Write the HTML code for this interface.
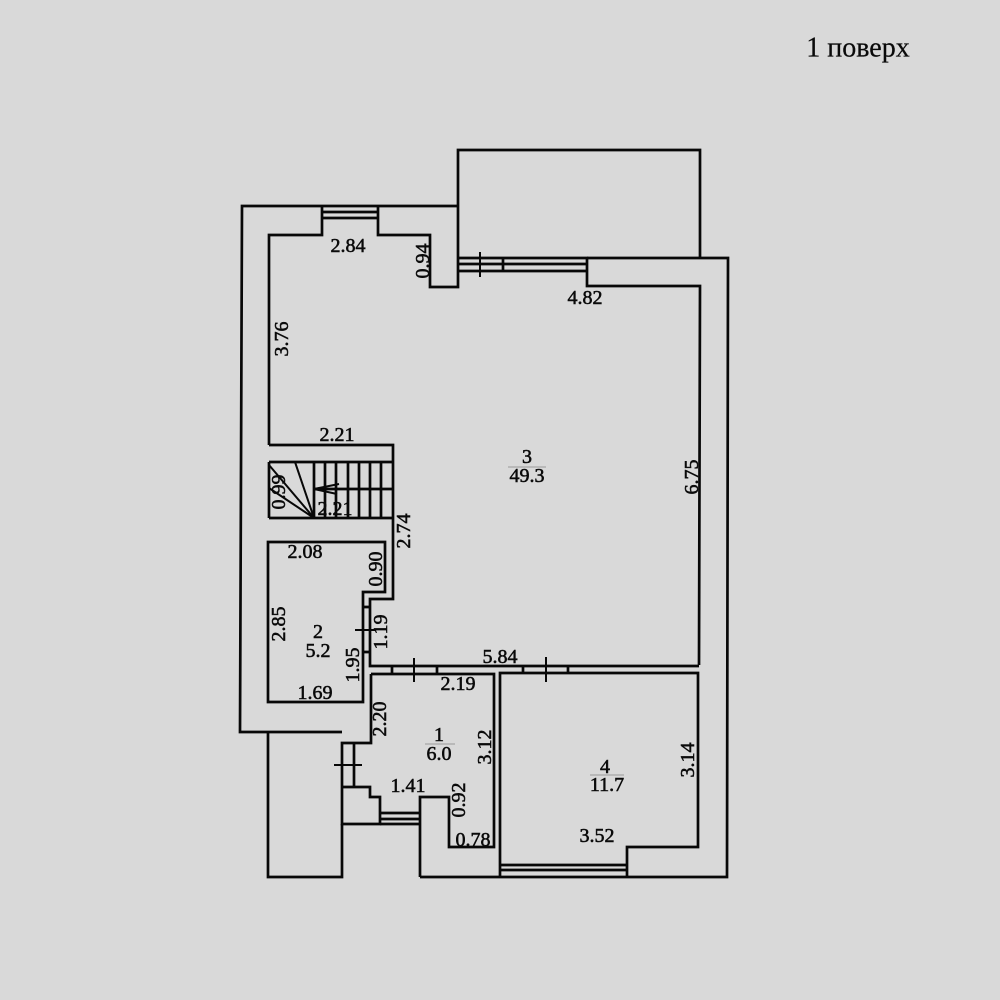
<!DOCTYPE html>
<html lang="uk"><head><meta charset="utf-8"><title>1 поверх</title>
<style>
html,body{margin:0;padding:0;background:#d9d9d9;width:1000px;height:1000px;overflow:hidden}
svg{display:block}
.w{fill:none;stroke:#080808;stroke-width:2.7;stroke-linejoin:miter}
.t{stroke-width:2}
text{font-family:"Liberation Serif",serif;font-size:20px;fill:#0a0a0a;text-anchor:middle;dominant-baseline:central;stroke:#0a0a0a;stroke-width:.55}
</style></head><body>
<svg width="1000" height="1000" viewBox="0 0 1000 1000" xmlns="http://www.w3.org/2000/svg">
<rect width="1000" height="1000" fill="#d9d9d9"/>
<g class="w">
<!-- outer shell -->
<path d="M458 206H242L240 732H342"/>
<path d="M268 732V877H342V824"/>
<path d="M420 877H727L728 258H587"/>
<path d="M458 206V150H700V258"/>
<!-- top inner wall room 3 -->
<path d="M269 445V235H322V206M378 206V235H430V287H458V206"/>
<path d="M322 212H378M322 218H378"/>
<path d="M458 258H587V286H700L699 665"/>
<path d="M458 264H587M458 271H587M503 258V271"/>
<path class="t" d="M480 252V277"/>
<!-- centre wall and room 3 bottom -->
<path d="M269 445H393V599H370V666H699"/>
<!-- stairs -->
<path d="M269 462H393M269 518H393M269 462V518M314 489H393"/>
<path d="M314 462V518M325 462V518M336 462V518M348 462V518M359 462V518M370 462V518M381 462V518"/>
<path class="t" d="M269 465L314 518M295 462L314 518M269 488L314 518M314 489L339 484M314 489L337 494"/>
<!-- room 2 -->
<path d="M385 542H268V702H363V592H385Z"/>
<path d="M363 607H370M363 652H370"/>
<path class="t" d="M355 630H376"/>
<!-- door lines -->
<path d="M392 666V673M437 666V673M523 666V673M568 666V673"/>
<path class="t" d="M414 658V682M546 657V682"/>
<!-- room 1 -->
<path d="M371 674H494V847H449V797H420V877"/>
<path d="M371 674V743H342V824H380V797H370V787H342"/>
<path d="M354 743V787"/>
<path class="t" d="M334 765H362"/>
<path d="M380 813H420M380 819H420M380 824H420"/>
<!-- room 4 -->
<path d="M500 877V673H698V847H627V877"/>
<path d="M500 865H627M500 870H627"/>
</g>
<path d="M508 467H546M590 775H624M425 744H455" stroke="#999" stroke-width="1" fill="none"/>
<text x="858" y="48" style="font-size:28px;stroke-width:.2">1 поверх</text>
<text x="348" y="246">2.84</text>
<text transform="translate(423 261) rotate(-90)">0.94</text>
<text transform="translate(282 339) rotate(-90)">3.76</text>
<text x="585" y="298">4.82</text>
<text transform="translate(692 477) rotate(-90)">6.75</text>
<text x="337" y="435">2.21</text>
<text x="527" y="457">3</text>
<text x="527" y="476">49.3</text>
<text transform="translate(279 492) rotate(-90)">0.99</text>
<text x="335" y="509">2.21</text>
<text transform="translate(404 531) rotate(-90)">2.74</text>
<text x="305" y="552">2.08</text>
<text transform="translate(376 569) rotate(-90)">0.90</text>
<text transform="translate(279 624) rotate(-90)">2.85</text>
<text x="318" y="632">2</text>
<text x="318" y="651">5.2</text>
<text transform="translate(381 632) rotate(-90)">1.19</text>
<text transform="translate(353 665) rotate(-90)">1.95</text>
<text x="315" y="693">1.69</text>
<text x="500" y="657">5.84</text>
<text x="458" y="684">2.19</text>
<text transform="translate(380 719) rotate(-90)">2.20</text>
<text x="439" y="735">1</text>
<text x="439" y="754">6.0</text>
<text transform="translate(485 747) rotate(-90)">3.12</text>
<text x="408" y="786">1.41</text>
<text transform="translate(459 800) rotate(-90)">0.92</text>
<text x="473" y="840">0.78</text>
<text x="605" y="767">4</text>
<text x="607" y="785">11.7</text>
<text transform="translate(688 760) rotate(-90)">3.14</text>
<text x="597" y="836">3.52</text>
</svg>
</body></html>
